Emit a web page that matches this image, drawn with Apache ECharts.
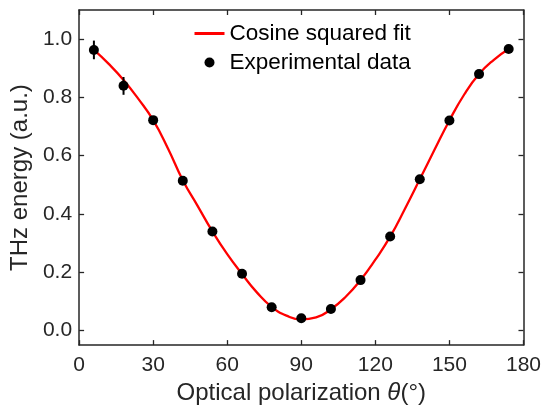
<!DOCTYPE html>
<html>
<head>
<meta charset="utf-8">
<script src="https://cdn.jsdelivr.net/npm/echarts@6/dist/echarts.min.js"></script>
<style>
  html, body { margin: 0; padding: 0; background: #fff; }
  #chart { width: 544px; height: 410px; }
</style>
</head>
<body>
<div id="chart"></div>
<script>
// measured points (angle in degrees, THz energy in a.u.)
var angles = [6, 18, 30, 42, 54, 66, 78, 90, 102, 114, 126, 138, 150, 162, 174];
var energy = [0.963, 0.840, 0.722, 0.514, 0.340, 0.195, 0.080, 0.042, 0.074, 0.173, 0.323, 0.519, 0.721, 0.880, 0.966];

// error bars that stick out of the markers
var errAngles = [6, 18];
var errLow = [0.931, 0.809];
var errHigh = [0.995, 0.870];

// fit curve
var fitAngles = [6, 12, 18, 24, 30, 36, 42, 48, 54, 60, 66, 72, 78, 84, 90,
                 96, 102, 108, 114, 120, 126, 132, 138, 144, 150, 156, 162, 168, 174];
var fitEnergy = [0.963, 0.915, 0.860, 0.795, 0.722, 0.625, 0.516, 0.428, 0.340, 0.262, 0.194, 0.131, 0.081, 0.051, 0.038,
                 0.045, 0.073, 0.116, 0.173, 0.243, 0.322, 0.418, 0.519, 0.621, 0.721, 0.810, 0.880, 0.929, 0.966];

var xTicks = [0, 30, 60, 90, 120, 150, 180];
var yTicks = [0, 0.2, 0.4, 0.6, 0.8, 1.0];

var axisColor = '#262626';
var font = '"Liberation Sans", Arial, Helvetica, sans-serif';

var fitData = fitAngles.map(function (a, i) { return [a, fitEnergy[i]]; });
var pointData = angles.map(function (a, i) { return [a, energy[i]]; });
var errData = errAngles.map(function (a, i) { return [a, errLow[i], errHigh[i]]; });

var chart = echarts.init(document.getElementById('chart'), null, { renderer: 'canvas' });

var boxLine = { show: true, onZero: false, lineStyle: { color: axisColor, width: 1.5 } };
var tickStyle = { color: axisColor, width: 1.3 };

chart.setOption({
    animation: false,
    backgroundColor: '#fff',
    textStyle: { fontFamily: font },
    grid: { left: 79, right: 19, top: 10, bottom: 64 },
    legend: {
        orient: 'vertical',
        left: 193,
        top: 22,
        padding: 0,
        itemWidth: 30,
        itemHeight: 10,
        itemGap: 6,
        textStyle: { fontSize: 22.5, color: '#000', fontFamily: font },
        data: [
            { name: 'Cosine squared fit', itemStyle: { opacity: 0 }, lineStyle: { width: 3 } },
            { name: 'Experimental data' }
        ]
    },
    xAxis: [{
        type: 'value',
        min: 0, max: 180, interval: 30,
        name: 'Optical polarization {i|θ}(°)',
        nameLocation: 'middle',
        nameGap: 34,
        nameTextStyle: {
            fontSize: 24, color: axisColor, fontFamily: font,
            rich: { i: { fontSize: 24, fontStyle: 'italic', color: axisColor, fontFamily: font } }
        },
        axisLine: boxLine,
        axisTick: { show: true, inside: true, length: 5, customValues: xTicks, lineStyle: tickStyle },
        axisLabel: { fontSize: 21, color: axisColor, margin: 10, customValues: xTicks },
        splitLine: { show: false }
    }, {
        type: 'value',
        position: 'top',
        min: 0, max: 180, interval: 30,
        axisLine: boxLine,
        axisTick: { show: true, inside: true, length: 5, customValues: xTicks, lineStyle: tickStyle },
        axisLabel: { show: false },
        splitLine: { show: false }
    }],
    yAxis: [{
        type: 'value',
        min: -0.05, max: 1.1,
        name: 'THz energy (a.u.)',
        nameLocation: 'middle',
        nameGap: 42,
        nameTextStyle: { fontSize: 24, color: axisColor, fontFamily: font },
        axisLine: boxLine,
        axisTick: { show: true, inside: true, length: 5, customValues: yTicks, lineStyle: tickStyle },
        axisLabel: {
            fontSize: 21, color: axisColor, margin: 7, customValues: yTicks,
            formatter: function (v) { return v.toFixed(1); }
        },
        splitLine: { show: false }
    }, {
        type: 'value',
        position: 'right',
        min: -0.05, max: 1.1,
        axisLine: boxLine,
        axisTick: { show: true, inside: true, length: 5, customValues: yTicks, lineStyle: tickStyle },
        axisLabel: { show: false, customValues: yTicks },
        splitLine: { show: false }
    }],
    series: [{
        name: 'Cosine squared fit',
        type: 'line',
        smooth: true,
        symbol: 'none',
        data: fitData,
        lineStyle: { color: '#ff0000', width: 2.3 },
        itemStyle: { color: '#ff0000' },
        z: 2
    }, {
        name: 'errorbars',
        type: 'custom',
        data: errData,
        renderItem: function (params, api) {
            var p1 = api.coord([api.value(0), api.value(1)]);
            var p2 = api.coord([api.value(0), api.value(2)]);
            return {
                type: 'line',
                shape: { x1: p1[0], y1: p1[1], x2: p2[0], y2: p2[1] },
                style: { stroke: '#000', lineWidth: 2 }
            };
        },
        z: 3
    }, {
        name: 'Experimental data',
        type: 'scatter',
        symbol: 'circle',
        symbolSize: 10,
        data: pointData,
        itemStyle: { color: '#000', opacity: 1 },
        z: 4
    }]
});
</script>
</body>
</html>
